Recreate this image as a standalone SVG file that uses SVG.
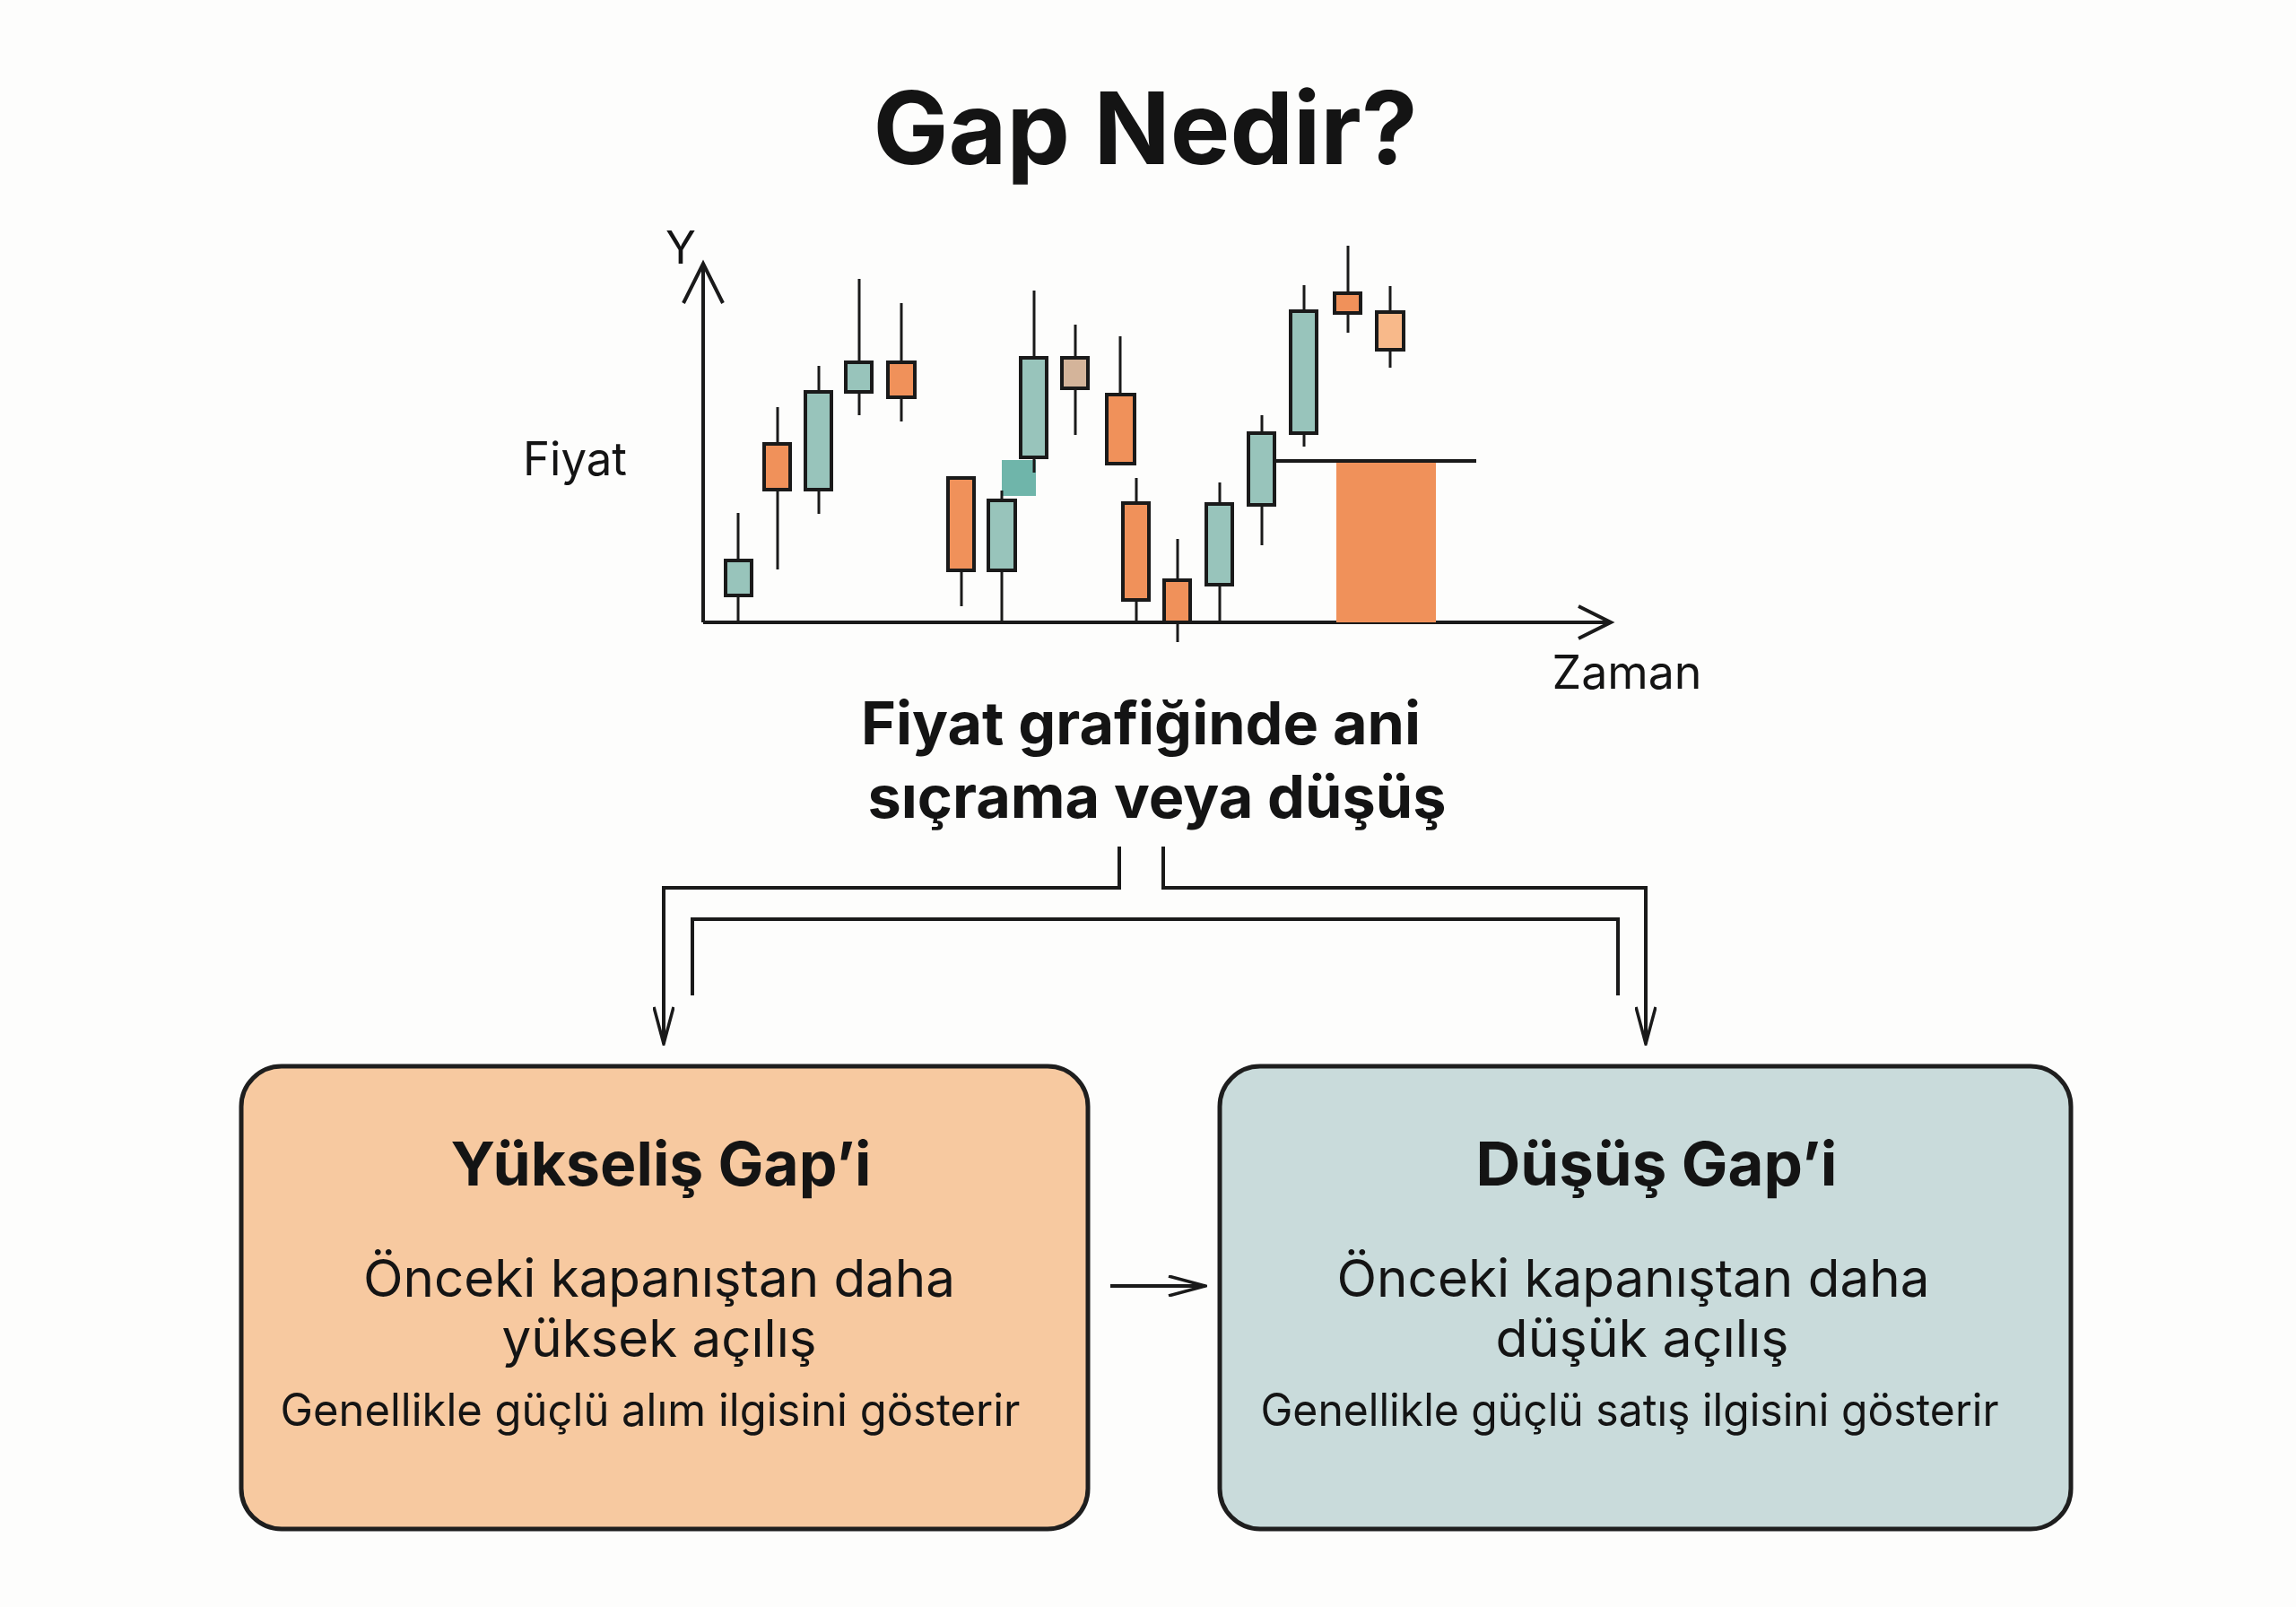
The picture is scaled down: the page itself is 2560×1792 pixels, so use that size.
<svg xmlns="http://www.w3.org/2000/svg" width="2560" height="1792" viewBox="0 0 2560 1792">
<defs>
<style>
text{font-family:Inter,"Liberation Sans","DejaVu Sans",sans-serif;fill:#141414;text-anchor:middle}
.b{font-weight:700}
.ax{stroke:#1a1a1a;stroke-width:4;fill:none}
.w{stroke:#1a1a1a;stroke-width:3}
.c{stroke:#1a1a1a;stroke-width:4}
.t{fill:#98c4bb}.o{fill:#f0915a}
.con{stroke:#1a1a1a;stroke-width:4;fill:none}
</style>
<marker id="ah" viewBox="0 0 44 24" refX="42" refY="12" markerWidth="44" markerHeight="24" markerUnits="userSpaceOnUse" orient="auto">
<path d="M1,1 L42,12 L1,23" fill="none" stroke="#1a1a1a" stroke-width="3.5"/>
</marker>
</defs>
<rect width="2560" height="1792" fill="#fdfdfc"/>
<text class="b" x="1277" y="183" font-size="112" textLength="607" lengthAdjust="spacingAndGlyphs">Gap Nedir?</text>
<g id="chart">
<path class="ax" d="M784,694 V296 M762,338 L784,294 L806,338"/>
<path class="ax" d="M784,694 H1794 M1760,676 L1796,694 L1760,712"/>
<text x="759" y="294" font-size="50">Y</text>
<text x="641" y="530" font-size="52" textLength="116" lengthAdjust="spacingAndGlyphs">Fiyat</text>
<text x="1814" y="768" font-size="52" textLength="167" lengthAdjust="spacingAndGlyphs">Zaman</text>
<rect x="1490" y="514" width="111" height="180" fill="#f0915a"/>
<line class="c" x1="1421" y1="514" x2="1646" y2="514"/>
<rect x="1117" y="513" width="38" height="40" fill="#6fb5aa"/>
<g class="w">
<line x1="823" y1="572" x2="823" y2="694"/><line x1="867" y1="454" x2="867" y2="635"/>
<line x1="913" y1="408" x2="913" y2="573"/><line x1="958" y1="311" x2="958" y2="463"/>
<line x1="1005" y1="338" x2="1005" y2="470"/><line x1="1072" y1="533" x2="1072" y2="676"/>
<line x1="1117" y1="547" x2="1117" y2="694"/><line x1="1153" y1="324" x2="1153" y2="527"/>
<line x1="1199" y1="362" x2="1199" y2="485"/><line x1="1249" y1="375" x2="1249" y2="517"/>
<line x1="1267" y1="533" x2="1267" y2="694"/><line x1="1313" y1="601" x2="1313" y2="716"/>
<line x1="1360" y1="538" x2="1360" y2="694"/><line x1="1407" y1="463" x2="1407" y2="608"/>
<line x1="1454" y1="318" x2="1454" y2="498"/><line x1="1503" y1="274" x2="1503" y2="371"/>
<line x1="1550" y1="319" x2="1550" y2="410"/>
</g>
<g class="c">
<rect class="t" x="809" y="625" width="29" height="39"/>
<rect class="o" x="852" y="495" width="29" height="51"/>
<rect class="t" x="898" y="437" width="29" height="109"/>
<rect class="t" x="943" y="404" width="29" height="33"/>
<rect class="o" x="990" y="404" width="30" height="39"/>
<rect class="o" x="1057" y="533" width="29" height="103"/>
<rect class="t" x="1102" y="558" width="30" height="78"/>
<rect class="t" x="1138" y="399" width="29" height="111"/>
<rect x="1184" y="399" width="29" height="34" fill="#d4b49a"/>
<rect class="o" x="1234" y="440" width="31" height="77"/>
<rect class="o" x="1252" y="561" width="29" height="108"/>
<rect class="o" x="1298" y="647" width="29" height="47"/>
<rect class="t" x="1345" y="562" width="29" height="90"/>
<rect class="t" x="1392" y="483" width="29" height="80"/>
<rect class="t" x="1439" y="347" width="29" height="136"/>
<rect class="o" x="1488" y="327" width="29" height="22"/>
<rect x="1535" y="348" width="30" height="42" fill="#f8b98a"/>
</g>
</g>
<g id="subtitle">
<text class="b" x="1272" y="830" font-size="66" textLength="624" lengthAdjust="spacingAndGlyphs">Fiyat grafiğinde ani</text>
<text class="b" x="1290" y="912" font-size="66" textLength="645" lengthAdjust="spacingAndGlyphs">sıçrama veya düşüş</text>
</g>
<g id="connectors">
<path class="con" d="M1248,944 V990 H740 V1164" marker-end="url(#ah)"/>
<path class="con" d="M772,1110 V1025 H1804 V1110"/>
<path class="con" d="M1297,944 V990 H1835 V1164" marker-end="url(#ah)"/>
<path class="con" d="M1238,1434 H1344" marker-end="url(#ah)"/>
</g>
<g id="rise">
<rect x="269" y="1189" width="944" height="516" rx="45" fill="#f7c9a0" stroke="#1e1e1e" stroke-width="5"/>
<text class="b" x="737" y="1322" font-size="68" textLength="469" lengthAdjust="spacingAndGlyphs">Yükseliş Gap’i</text>
<text x="735" y="1446" font-size="58" textLength="660" lengthAdjust="spacingAndGlyphs">Önceki kapanıştan daha</text>
<text x="735" y="1513" font-size="58" textLength="351" lengthAdjust="spacingAndGlyphs">yüksek açılış</text>
<text x="725" y="1590" font-size="50" textLength="825" lengthAdjust="spacingAndGlyphs">Genellikle güçlü alım ilgisini gösterir</text>
</g>
<g id="fall">
<rect x="1360" y="1189" width="949" height="516" rx="45" fill="#c9dbdb" stroke="#1e1e1e" stroke-width="5"/>
<text class="b" x="1847" y="1322" font-size="68" textLength="403" lengthAdjust="spacingAndGlyphs">Düşüş Gap’i</text>
<text x="1821" y="1446" font-size="58" textLength="661" lengthAdjust="spacingAndGlyphs">Önceki kapanıştan daha</text>
<text x="1831" y="1513" font-size="58" textLength="327" lengthAdjust="spacingAndGlyphs">düşük açılış</text>
<text x="1817" y="1590" font-size="50" textLength="823" lengthAdjust="spacingAndGlyphs">Genellikle güçlü satış ilgisini gösterir</text>
</g>
</svg>
